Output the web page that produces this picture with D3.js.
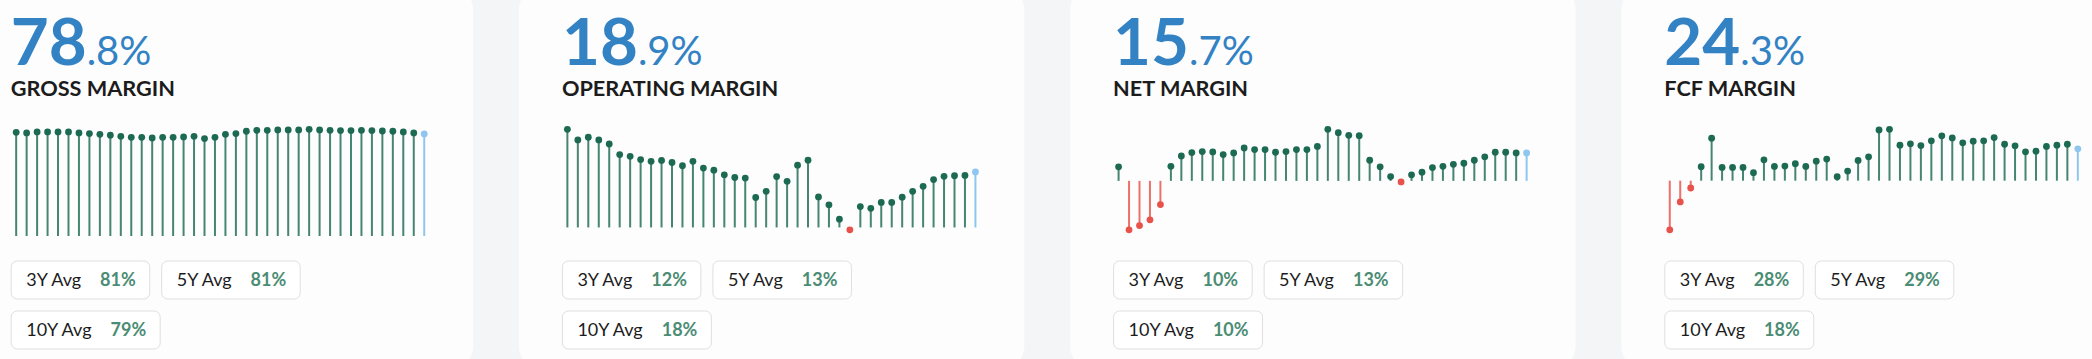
<!DOCTYPE html>
<html>
<head>
<meta charset="utf-8">
<script src="https://cdn.jsdelivr.net/npm/d3@7"></script>
<style>
  html, body { margin: 0; padding: 0; background: #f4f5f7; overflow: hidden; }
  svg { display: block; font-family: Lato, "Noto Sans", sans-serif; }
</style>
</head>
<body>
<svg id="chart" width="2092" height="359"></svg>
<script>
// ---- data ----
const cardTitles = ["GROSS MARGIN", "OPERATING MARGIN", "NET MARGIN", "FCF MARGIN"];
const headInt = ["78", "18", "15", "24"];
const headDec = [".8%", ".9%", ".7%", ".3%"];

const grossMargin = [80.1, 79.6, 80.4, 80.4, 80.4, 80.4, 79.6, 79.1, 78.5, 77.8,
  77.0, 76.2, 76.2, 75.7, 76.2, 76.2, 76.5, 77.0, 75.2, 76.2,
  78.5, 79.1, 80.9, 81.6, 81.6, 81.9, 81.9, 81.9, 82.4, 81.9,
  81.6, 81.4, 81.4, 81.6, 81.4, 81.1, 80.9, 80.4, 79.6, 78.8];
const operatingMargin = [33.4, 29.8, 30.7, 29.8, 28.4, 24.8, 24.2, 23.1, 22.5, 22.8,
  22.1, 21.0, 22.5, 20.2, 19.5, 17.9, 17.0, 16.8, 10.2, 12.3,
  17.3, 15.7, 21.2, 22.9, 10.4, 7.7, 2.8, -0.8, 7.1, 6.5,
  8.5, 8.5, 10.3, 12.3, 14.0, 16.3, 17.4, 17.6, 17.7, 18.9];
const netMargin = [7.9, -27.5, -25.1, -21.9, -13.3, 8.2, 14.0, 15.9, 16.5, 16.3,
  14.8, 15.7, 18.5, 17.6, 17.6, 16.1, 16.5, 17.6, 17.6, 19.4,
  29.0, 27.1, 25.6, 25.4, 11.6, 7.9, 2.4, -0.6, 3.4, 4.9,
  7.5, 8.2, 9.3, 9.9, 11.6, 13.5, 16.1, 16.1, 15.7, 15.7];
const fcfMargin = [-37.5, -16.2, -5.6, 10.6, 32.4, 10.1, 10.1, 10.1, 6.1, 15.9,
  10.9, 11.1, 12.9, 10.9, 14.9, 16.5, 3.0, 7.3, 15.4, 18.2,
  38.7, 39.2, 27.1, 28.1, 26.8, 30.4, 34.2, 32.6, 28.9, 30.1,
  30.4, 32.9, 27.8, 26.6, 22.0, 22.5, 26.1, 27.1, 27.8, 24.3];

const avgLabels = ["3Y Avg", "5Y Avg", "10Y Avg"];
const avg3Y = ["81%", "12%", "10%", "28%"];
const avg5Y = ["81%", "13%", "13%", "29%"];
const avg10Y = ["79%", "18%", "10%", "18%"];

const series = [grossMargin, operatingMargin, netMargin, fcfMargin];

// ---- styling / layout ----
const C = {
  blue: "#3282c4",
  green: "#1d6a53",
  red: "#e8524a",
  light: "#8fc6ef",
  avgGreen: "#4b8c74",
  text: "#1c1c1c"
};

const svg = d3.select("#chart");
const cardPitch = 551.2, cardLeft0 = -32.3, cardW = 505.5;
const contentOff = 44.5;

series.forEach((vals, i) => {
  const cx = cardLeft0 + i * cardPitch;
  const g = svg.append("g").attr("transform", `translate(${cx},0)`);

  g.append("rect")
    .attr("x", 0).attr("y", -14)
    .attr("width", cardW).attr("height", 384)
    .attr("rx", 24).attr("ry", 24)
    .attr("fill", "#fdfdfd");

  const c = g.append("g").attr("transform", `translate(${contentOff},0)`);

  // headline
  const head = c.append("text").attr("x", -1.5).attr("y", 64.6).attr("fill", C.blue);
  head.append("tspan").attr("font-size", 65.5).attr("font-weight", 700)
    .text(headInt[i]);
  head.append("tspan").attr("font-size", 40).attr("font-weight", 400).text(headDec[i]);

  c.append("text").attr("x", -1.5).attr("y", 95.5)
    .attr("font-size", 21.7).attr("font-weight", 700)
    .attr("fill", C.text)
    .text(cardTitles[i]);

  // lollipop chart
  const idx = vals.map((d, k) => k);
  const x = d3.scalePoint().domain(idx).range([0, 416]).padding(0.38);
  const minV = d3.min(vals), maxV = d3.max(vals);
  const y = d3.scaleLinear()
    .domain([Math.min(0, minV), maxV])
    .range([minV < 0 ? 229.8 : 236, 129.3]);

  const colorOf = (d, k) => k === vals.length - 1 ? C.light : (d < 0 ? C.red : C.green);

  const ch = c.append("g");
  ch.selectAll("line.stem").data(vals).join("line")
    .attr("class", "stem")
    .attr("x1", (d, k) => x(k)).attr("x2", (d, k) => x(k))
    .attr("y1", y(0)).attr("y2", d => y(d))
    .attr("stroke", colorOf).attr("stroke-width", 2)
    .attr("stroke-opacity", (d, k) => k === vals.length - 1 ? 1 : 0.82);
  ch.selectAll("circle.dot").data(vals).join("circle")
    .attr("class", "dot")
    .attr("cx", (d, k) => x(k)).attr("cy", d => y(d))
    .attr("r", 3.4).attr("fill", colorOf);

  // average boxes
  const avgVals = [avg3Y[i], avg5Y[i], avg10Y[i]];
  const rows = [261, 261, 311];
  let prevRight = 0;
  avgVals.forEach((v, k) => {
    const bx = -1 + (k === 1 ? prevRight + 12 : 0);
    const by = rows[k];
    const bg = c.append("g").attr("transform", `translate(${bx},${by})`);
    const rect = bg.append("rect").attr("x", 0).attr("y", 0)
      .attr("height", 38).attr("rx", 6).attr("ry", 6)
      .attr("fill", "#ffffff").attr("stroke", "#dedfe1").attr("stroke-width", 1);
    const lab = bg.append("text").attr("x", 15).attr("y", 25.3)
      .attr("font-size", 18).attr("fill", C.text).text(avgLabels[k]);
    const lw = lab.node().getComputedTextLength();
    const val = bg.append("text").attr("x", 15 + lw + 19).attr("y", 25.3)
      .attr("font-size", 18).attr("font-weight", 700).attr("fill", C.avgGreen).text(v);
    const vw = val.node().getComputedTextLength();
    const w = 15 + lw + 19 + vw + 14;
    rect.attr("width", w);
    if (k === 0) prevRight = w;
  });
});
</script>
</body>
</html>
